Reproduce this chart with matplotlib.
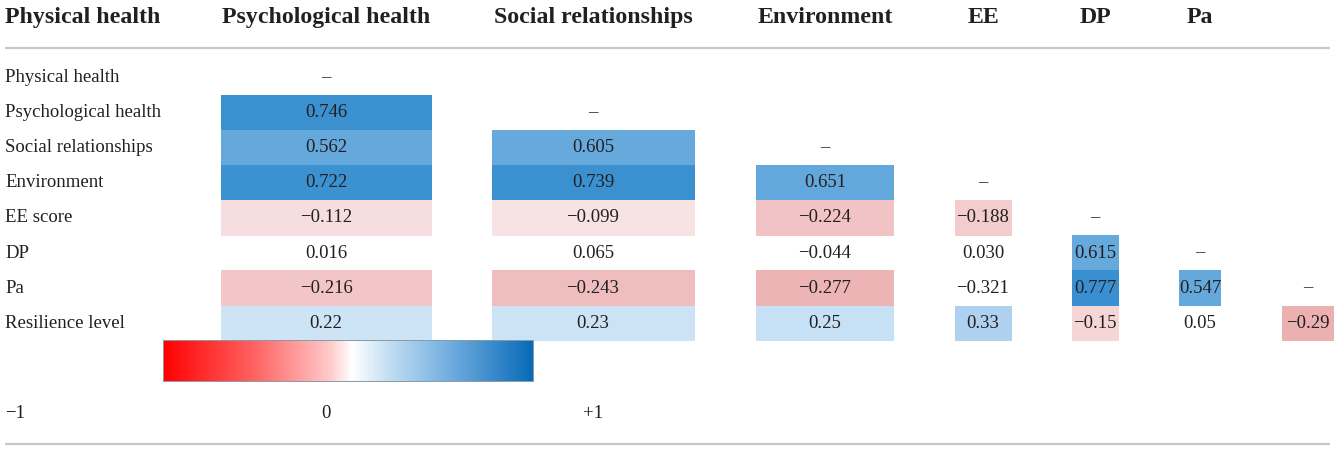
import matplotlib
matplotlib.use("Agg")
import matplotlib.pyplot as plt
from matplotlib.patches import Rectangle
from matplotlib.colors import LinearSegmentedColormap, Normalize
from matplotlib.cm import ScalarMappable

# ---------------- data ----------------
row_labels = ["Physical health", "Psychological health", "Social relationships",
              "Environment", "EE score", "DP", "Pa", "Resilience level"]
col_headers = ["Physical health", "Psychological health", "Social relationships",
               "Environment", "EE", "DP", "Pa"]
DASH = "–"
# one list per data column, top row first; None = empty cell, DASH = diagonal
col0 = [DASH, 0.746, 0.562, 0.722, -0.112, 0.016, -0.216, 0.22]
col1 = [None, DASH, 0.605, 0.739, -0.099, 0.065, -0.243, 0.23]
col2 = [None, None, DASH, 0.651, -0.224, -0.044, -0.277, 0.25]
col3 = [None, None, None, DASH, -0.188, 0.030, -0.321, 0.33]
col4 = [None, None, None, None, DASH, 0.615, 0.777, -0.15]
col5 = [None, None, None, None, None, DASH, 0.547, 0.05]
col6 = [None, None, None, None, None, None, DASH, -0.29]
columns = [col0, col1, col2, col3, col4, col5, col6]
# cells that are shaded in the table
shaded0 = [0, 1, 1, 1, 1, 0, 1, 1]
shaded1 = [0, 0, 1, 1, 1, 0, 1, 1]
shaded2 = [0, 0, 0, 1, 1, 0, 1, 1]
shaded3 = [0, 0, 0, 0, 1, 0, 0, 1]
shaded4 = [0, 0, 0, 0, 0, 1, 1, 1]
shaded5 = [0, 0, 0, 0, 0, 0, 1, 0]
shaded6 = [0, 0, 0, 0, 0, 0, 0, 1]
shaded = [shaded0, shaded1, shaded2, shaded3, shaded4, shaded5, shaded6]
row_decimals = [3, 3, 3, 3, 3, 3, 3, 2]
scale_labels = ["\u22121", "0", "+1"]

# ---------------- layout / style ----------------
W, H = 1334, 450
col_centers = [326, 593, 825, 983, 1095, 1200, 1308]
col_widths = [211, 203, 138, 57, 47, 42, 52]
label_x = 5
row_y0, row_step, row_h = 77.5, 35.1, 35.3
header_y = 17.5
BODY = 13.5
HEAD = 17.2
TXT = "#231f20"
LINE = "#c8c8c8"
FONT = ["Liberation Serif", "DejaVu Serif"]

def rgb(r, g, b):
    return (r / 255, g / 255, b / 255)

cell_cmap = LinearSegmentedColormap.from_list("cells", [
    (0.00, rgb(200, 60, 60)),
    (0.35, rgb(234, 174, 174)),
    (0.40, rgb(243, 202, 203)),
    (0.45, rgb(247, 225, 227)),
    (0.50, rgb(255, 255, 255)),
    (0.55, rgb(225, 238, 249)),
    (0.625, rgb(200, 226, 245)),
    (0.665, rgb(174, 210, 238)),
    (0.775, rgb(100, 168, 220)),
    (0.825, rgb(102, 170, 221)),
    (0.86, rgb(60, 145, 208)),
    (0.89, rgb(58, 143, 208)),
    (1.00, rgb(0, 102, 180)),
])
bar_cmap = LinearSegmentedColormap.from_list("bar", [
    (0.00, rgb(255, 0, 0)),
    (0.25, rgb(255, 100, 100)),
    (0.45, rgb(255, 200, 200)),
    (0.51, rgb(255, 255, 255)),
    (0.60, rgb(200, 225, 243)),
    (0.78, rgb(110, 172, 222)),
    (1.00, rgb(8, 106, 184)),
])
norm = Normalize(-1, 1)

fig = plt.figure(figsize=(W / 100, H / 100), dpi=100)
ax = fig.add_axes([0, 0, 1, 1])
ax.set_xlim(0, W)
ax.set_ylim(H, 0)
ax.axis("off")

# headers
for j, h in enumerate(col_headers):
    if j == 0:
        ax.text(label_x, header_y, h, ha="left", va="center", fontsize=HEAD,
                fontweight="bold", family=FONT, color=TXT)
    else:
        ax.text(col_centers[j - 1], header_y, h, ha="center", va="center",
                fontsize=HEAD, fontweight="bold", family=FONT, color=TXT)

ax.plot([label_x, W - 4], [48, 48], color=LINE, lw=1.6, solid_capstyle="butt")
ax.plot([label_x, W - 4], [444, 444], color=LINE, lw=1.6, solid_capstyle="butt")

# row labels
for i, r in enumerate(row_labels):
    ax.text(label_x, row_y0 + i * row_step, r, ha="left", va="center",
            fontsize=BODY, family=FONT, color=TXT)

# cells
for j, col in enumerate(columns):
    cx, cw = col_centers[j], col_widths[j]
    for i, v in enumerate(col):
        if v is None:
            continue
        cy = row_y0 + i * row_step
        if v == DASH:
            ax.text(cx, cy, DASH, ha="center", va="center", fontsize=BODY,
                    family=FONT, color=TXT)
            continue
        if shaded[j][i]:
            ax.add_patch(Rectangle((cx - cw / 2, cy - row_h / 2), cw, row_h,
                                   facecolor=cell_cmap(norm(v)), edgecolor="none"))
        s = f"{abs(v):.{row_decimals[i]}f}"
        if v < 0:
            s = "\u2212" + s
        ax.text(cx, cy, s, ha="center", va="center", fontsize=BODY,
                family=FONT, color=TXT)

# colour scale bar
cax = fig.add_axes([163 / W, 1 - 381 / H, 370 / W, 41 / H])
cb = fig.colorbar(ScalarMappable(norm=norm, cmap=bar_cmap), cax=cax,
                  orientation="horizontal")
cb.set_ticks([])
cb.outline.set_edgecolor("#8a9aa3")
cb.outline.set_linewidth(0.7)

scale_x = [label_x, col_centers[0], col_centers[1]]
for k, t in enumerate(scale_labels):
    ax.text(scale_x[k], 413, t, ha="left" if k == 0 else "center", va="center",
            fontsize=BODY, family=FONT, color=TXT)

fig.savefig("out.png", dpi=100)
